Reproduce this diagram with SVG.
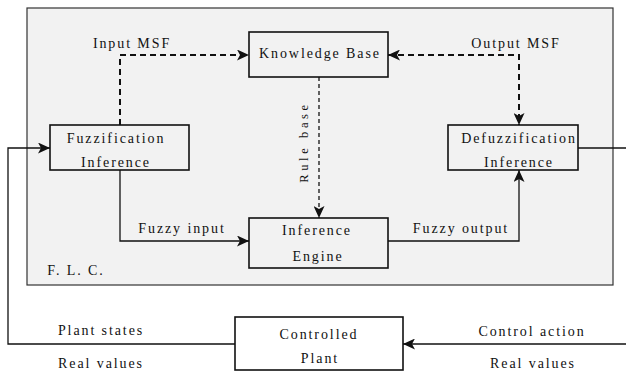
<svg xmlns="http://www.w3.org/2000/svg" width="626" height="372" viewBox="0 0 626 372">
<style>
text{font-family:"Liberation Serif","Times New Roman",serif;font-size:14px;letter-spacing:1.9px;fill:#111;text-anchor:middle}
.box{fill:#f2f2f2;stroke:#111;stroke-width:1.6}
.wbox{fill:#fff;stroke:#111;stroke-width:1.6}
.solid{fill:none;stroke:#111;stroke-width:1.3}
.dash{fill:none;stroke:#111;stroke-width:2;stroke-dasharray:6,4}
.tdash{fill:none;stroke:#000;stroke-width:1.2;stroke-dasharray:4,3}
</style>
<defs>
<marker id="ah" viewBox="0 0 12 11" refX="12" refY="5.5" markerWidth="12" markerHeight="11" markerUnits="userSpaceOnUse" orient="auto-start-reverse">
<path d="M0,0 L12,5.5 L0,11 L3,5.5 z" fill="#111"/>
</marker>
</defs>
<g id="flc">
<rect x="27" y="8" width="586" height="277" fill="#f2f2f2" stroke="#333" stroke-width="1.2"/>
<text x="76" y="275">F. L. C.</text>
</g>
<g id="connectors">
<path class="dash" d="M120,125 V55 H249" marker-end="url(#ah)"/>
<path class="dash" d="M388,55 H519 V125" marker-start="url(#ah)" marker-end="url(#ah)"/>
<path class="tdash" d="M319,77 V218" marker-end="url(#ah)"/>
<path class="solid" d="M120,170 V241 H249" marker-end="url(#ah)"/>
<path class="solid" d="M388,241 H519 V170" marker-end="url(#ah)"/>
<path class="solid" d="M235,344 H8 V148 H50" marker-end="url(#ah)"/>
<path class="solid" d="M578,148 H626"/>
<path class="solid" d="M626,344 H403" marker-end="url(#ah)"/>
<text x="132" y="48">Input MSF</text>
<text x="516" y="48">Output MSF</text>
<text x="182" y="233">Fuzzy input</text>
<text x="461" y="233">Fuzzy output</text>
<text transform="translate(308,142) rotate(-90)" style="font-size:12.5px;letter-spacing:3.6px">Rule base</text>
<text x="101" y="335">Plant states</text>
<text x="101" y="368">Real values</text>
<text x="532" y="336">Control action</text>
<text x="533" y="368">Real values</text>
</g>
<g id="knowledge-base">
<rect class="box" x="249" y="32" width="139" height="45"/>
<text x="320" y="58">Knowledge Base</text>
</g>
<g id="fuzzification">
<rect class="box" x="50" y="125" width="139" height="45"/>
<text x="116" y="143">Fuzzification</text>
<text x="116" y="167">Inference</text>
</g>
<g id="defuzzification">
<rect class="box" x="448" y="125" width="130" height="45"/>
<text x="519" y="143">Defuzzification</text>
<text x="519" y="167">Inference</text>
</g>
<g id="inference-engine">
<rect class="box" x="249" y="218" width="139" height="50"/>
<text x="317" y="235">Inference</text>
<text x="318" y="261">Engine</text>
</g>
<g id="controlled-plant">
<rect class="wbox" x="235" y="317" width="168" height="53"/>
<text x="319" y="339">Controlled</text>
<text x="320" y="363">Plant</text>
</g>
</svg>
